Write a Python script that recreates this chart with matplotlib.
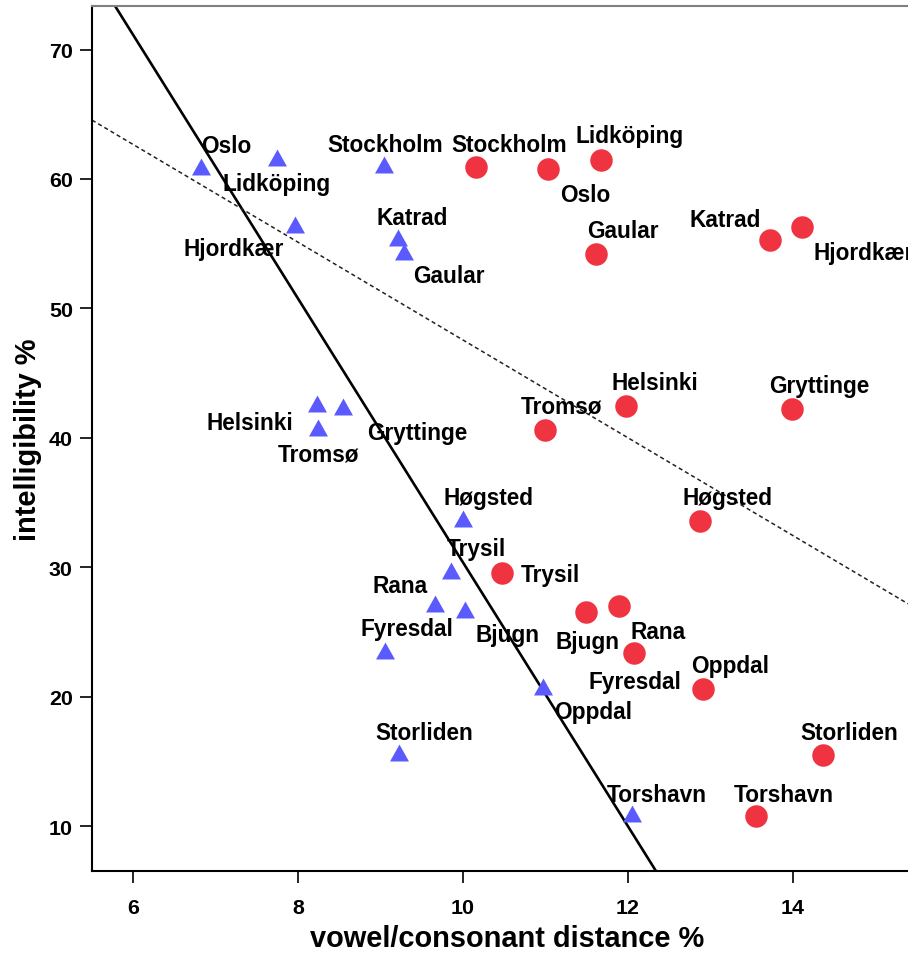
import matplotlib
matplotlib.use("Agg")
import matplotlib.pyplot as plt
import numpy as np

# ---------------- data ----------------
dialects = ["Stockholm", "Oslo", "Lidköping", "Gaular", "Katrad", "Hjordkær",
            "Helsinki", "Gryttinge", "Tromsø", "Høgsted", "Trysil", "Bjugn",
            "Rana", "Fyresdal", "Oppdal", "Storliden", "Torshavn"]
intelligibility = [60.9, 60.8, 61.5, 54.2, 55.3, 56.3,
                   42.5, 42.2, 40.6, 33.6, 29.6, 26.6,
                   27.0, 23.4, 20.6, 15.5, 10.8]
# triangles
series_a_distance = [9.04, 6.82, 7.74, 9.28, 9.21, 7.96,
                     8.23, 8.55, 8.24, 10.00, 9.85, 10.02,
                     9.66, 9.05, 10.97, 9.22, 12.05]
# circles
series_b_distance = [10.16, 11.03, 11.68, 11.61, 13.72, 14.12,
                     11.98, 13.99, 10.99, 12.88, 10.48, 11.49,
                     11.89, 12.07, 12.91, 14.37, 13.55]

# fit lines (intercept, slope)
solid_fit = (132.2, -10.18)
dashed_fit = (85.3, -3.773)

x_ticks = [6, 8, 10, 12, 14]
y_ticks = [10, 20, 30, 40, 50, 60, 70]
x_label = "vowel/consonant distance %"
y_label = "intelligibility %"

# label offsets in pixels (dx, dy up), baseline-anchored
offsets_a = [(1, 16.8), (25, 16.7), (0, -30), (45.7, -27.6), (14.5, 16), (-61, -28.4),
             (-66.7, -23.7), (73.7, -29.3), (1, -30), (25.6, 17.3), (25.6, 17.3), (42.7, -29.4),
             (-35, 14), (22.2, 17.6), (50.5, -29.3), (26, 16.5), (24.7, 15)]
offsets_b = [(33.2, 16.8), (37.2, -32.3), (28, 17.2), (27.3, 17.4), (-44.5, 14.3), (61.5, -31.7),
             (28.7, 16.3), (27.7, 17.3), (16.5, 18), (27.6, 17.3), (47.7, -8.7), (1.3, -37),
             (39, -32), (1.8, -35), (27.6, 17.4), (26.6, 16.5), (28.5, 15)]

# ---------------- style ----------------
plt.rcParams['font.family'] = ['Liberation Sans', 'DejaVu Sans']
W, H, DPI = 908, 954, 100
fig = plt.figure(figsize=(W / DPI, H / DPI), dpi=DPI)
ax = fig.add_axes([92 / W, 1 - 872 / H, (W - 92) / W, (872 - 7) / H])

xlim = (5.50, 15.40)
ylim = (6.56, 73.36)
ax.set_xlim(*xlim)
ax.set_ylim(*ylim)

tri_color = '#5a5aff'
circ_color = '#ef3340'

# triangle marker whose visual center sits slightly above the data point
tri_marker = [(0, 11), (-9.5, -6), (9.5, -6), (0, 11)]

ax.plot(series_a_distance, intelligibility, linestyle='none', marker=tri_marker,
        markersize=15.8, color=tri_color, markeredgewidth=0, zorder=3)
ax.plot(series_b_distance, intelligibility, linestyle='none', marker='o',
        markersize=16.2, color=circ_color, markeredgewidth=0, zorder=3)

xs = np.array(xlim)
ax.plot(xs, solid_fit[0] + solid_fit[1] * xs, color='black', lw=1.9, zorder=2,
        solid_capstyle='butt')
ax.plot(xs, dashed_fit[0] + dashed_fit[1] * xs, color='#222222', lw=1.1,
        linestyle=(0, (2.7, 2.0)), zorder=2)

for name, x, y, off in zip(dialects, series_a_distance, intelligibility, offsets_a):
    ax.annotate(name, (x, y), xytext=off, textcoords='offset pixels',
                ha='center', va='baseline', fontsize=16.3, fontweight='bold',
                color='black', zorder=4, annotation_clip=False)
for name, x, y, off in zip(dialects, series_b_distance, intelligibility, offsets_b):
    ax.annotate(name, (x, y), xytext=off, textcoords='offset pixels',
                ha='center', va='baseline', fontsize=16.3, fontweight='bold',
                color='black', zorder=4, annotation_clip=False)

ax.set_xticks(x_ticks)
ax.set_yticks(y_ticks)
ax.tick_params(axis='both', direction='out', length=8.8, width=1.2, color='black',
               labelsize=15.4)
ax.tick_params(axis='y', pad=5)
ax.tick_params(axis='x', pad=11)
for lab in ax.get_xticklabels() + ax.get_yticklabels():
    lab.set_fontweight('bold')

ax.spines['right'].set_visible(False)
ax.spines['top'].set_color('#808080')
ax.spines['top'].set_linewidth(1.5)
ax.spines['left'].set_linewidth(1.5)
ax.spines['bottom'].set_linewidth(1.5)

ax.set_xlabel(x_label, fontsize=20.9, fontweight='bold', va='center')
ax.xaxis.set_label_coords((507 - 92) / (W - 92), (872 - 939) / (872 - 7))
ax.set_ylabel(y_label, fontsize=20.9, fontweight='bold', va='center', ha='center')
ax.yaxis.set_label_coords((28 - 92) / (W - 92), (872 - 440) / (872 - 7))

fig.savefig("out.png", dpi=DPI)
